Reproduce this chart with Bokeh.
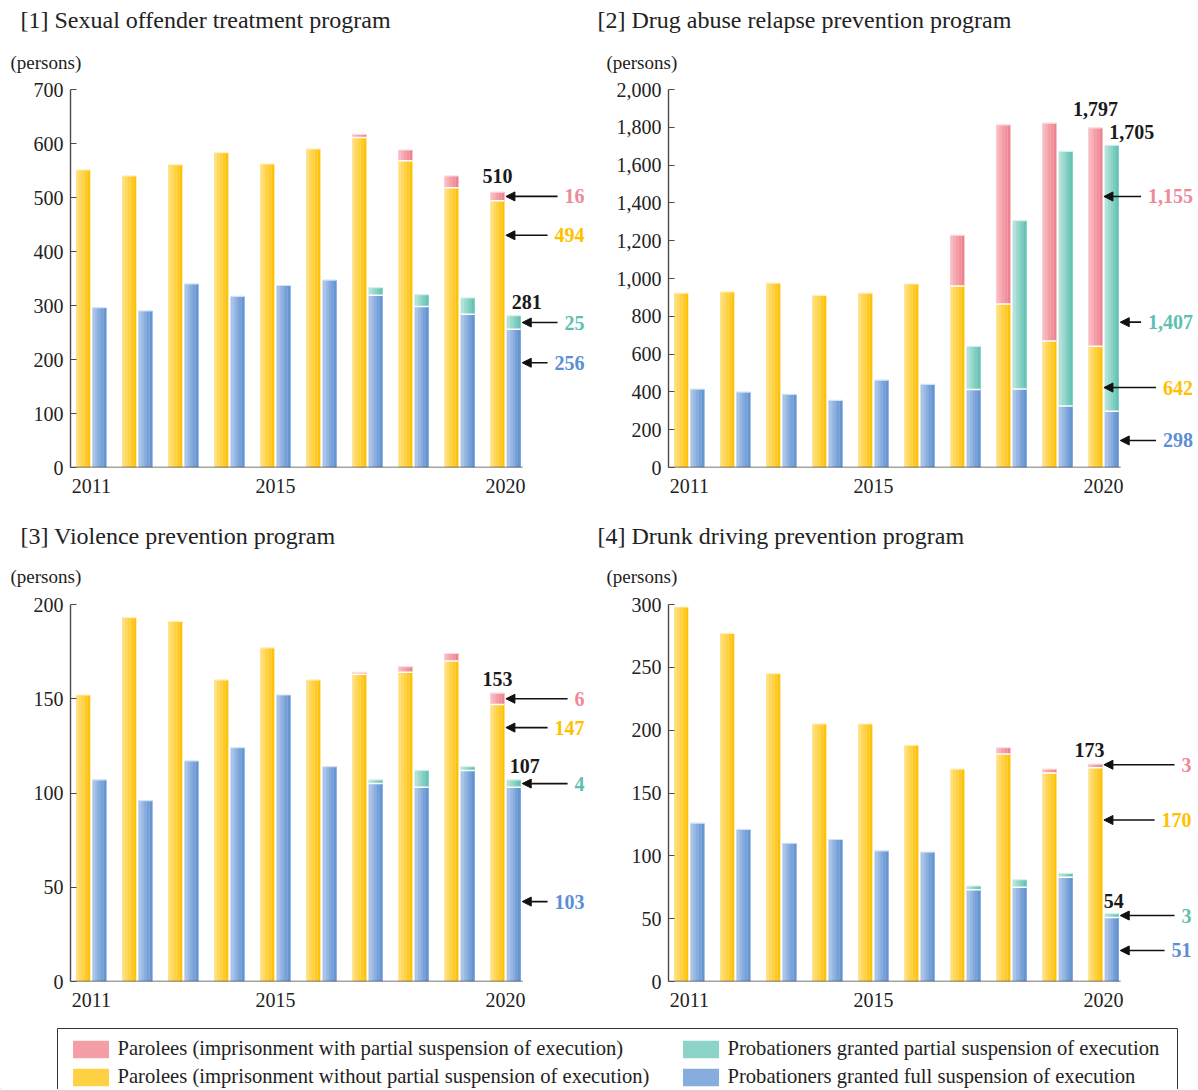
from bokeh.plotting import figure
from bokeh.layouts import column, row
from bokeh.models import (Range1d, FixedTicker, NumeralTickFormatter, Arrow, NormalHead,
                          Legend, LegendItem, Title)
from bokeh.core.properties import value
from bokeh.embed import file_html
from bokeh.resources import INLINE
import numpy as np

FONT = '"Liberation Serif"'

# ---------------- data ----------------
years = [2011, 2012, 2013, 2014, 2015, 2016, 2017, 2018, 2019, 2020]
tick_years = [2011, 2015, 2020]

titles = ["[1] Sexual offender treatment program",
          "[2] Drug abuse relapse prevention program",
          "[3] Violence prevention program",
          "[4] Drunk driving prevention program"]
unit_label = "(persons)"

series_names = ["Parolees (imprisonment with partial suspension of execution)",
                "Parolees (imprisonment without partial suspension of execution)",
                "Probationers granted partial suspension of execution",
                "Probationers granted full suspension of execution"]

# [1] Sexual offender treatment program
sex_par_no = [551, 540, 561, 583, 562, 590, 611, 568, 518, 494]
sex_par_part = [0, 0, 0, 0, 0, 0, 6, 20, 22, 16]
sex_prob_full = [296, 290, 340, 317, 337, 347, 319, 298, 284, 256]
sex_prob_part = [0, 0, 0, 0, 0, 0, 14, 22, 30, 25]
sex_yticks = [0, 100, 200, 300, 400, 500, 600, 700]

# [2] Drug abuse relapse prevention program
drug_par_no = [923, 929, 976, 911, 923, 971, 960, 865, 669, 642]
drug_par_part = [0, 0, 0, 0, 0, 0, 269, 948, 1153, 1155]
drug_prob_full = [415, 399, 387, 355, 462, 440, 413, 415, 325, 298]
drug_prob_part = [0, 0, 0, 0, 0, 0, 228, 891, 1348, 1407]
drug_yticks = [0, 200, 400, 600, 800, 1000, 1200, 1400, 1600, 1800, 2000]

# [3] Violence prevention program
viol_par_no = [152, 193, 191, 160, 177, 160, 163, 164, 170, 147]
viol_par_part = [0, 0, 0, 0, 0, 0, 1, 3, 4, 6]
viol_prob_full = [107, 96, 117, 124, 152, 114, 105, 103, 112, 103]
viol_prob_part = [0, 0, 0, 0, 0, 0, 2, 9, 2, 4]
viol_yticks = [0, 50, 100, 150, 200]

# [4] Drunk driving prevention program
drunk_par_no = [298, 277, 245, 205, 205, 188, 169, 181, 166, 170]
drunk_par_part = [0, 0, 0, 0, 0, 0, 0, 5, 3, 3]
drunk_prob_full = [126, 121, 110, 113, 104, 103, 73, 75, 83, 51]
drunk_prob_part = [0, 0, 0, 0, 0, 0, 3, 6, 3, 3]
drunk_yticks = [0, 50, 100, 150, 200, 250, 300]

# ---------------- styles ----------------
PINK = ("#F9BBC1", "#EE8390")
YELLOW = ("#FFE07E", "#FFC20A")
TEAL = ("#B2E2DA", "#66C4B5")
BLUE = ("#A9C4E8", "#6595D3")
TXT_PINK = "#EE8A96"
TXT_YELLOW = "#FFC000"
TXT_TEAL = "#5EC0AF"
TXT_BLUE = "#5B8ED5"
AXIS_COL = "#4a4a4a"

PPU = 46.03          # pixels per year
BAR_W_PX = 14.0
OFF_PX = 8.15


def blend(c1, c2, t):
    a = [int(c1[i:i + 2], 16) for i in (1, 3, 5)]
    b = [int(c2[i:i + 2], 16) for i in (1, 3, 5)]
    return "#%02x%02x%02x" % tuple(int(round(a[k] + (b[k] - a[k]) * t)) for k in range(3))


def draw_segments(p, xs, bottoms, tops, colors, width):
    xs = np.asarray(xs, float)
    bottoms = np.asarray(bottoms, float)
    tops = np.asarray(tops, float)
    keep = tops > bottoms
    xs, bottoms, tops = xs[keep], bottoms[keep], tops[keep]
    n = 5
    sub = width / n
    for k in range(n):
        t = k / (n - 1)
        col = blend(colors[0], colors[1], t)
        xk = xs - width / 2 + sub * (k + 0.5)
        p.vbar(x=xk, bottom=bottoms, top=tops, width=sub * 1.08,
               fill_color=col, line_color=None)


def make_panel(title, par_no, par_part, prob_full, prob_part, yticks,
               width, height, bl, br, bt, bb, ann):
    frame_w = width - bl - br
    x0 = years[0] - 20.8 / PPU
    x1 = x0 + frame_w / PPU
    p = figure(width=width, height=height, x_range=Range1d(x0, x1),
               y_range=Range1d(yticks[0], yticks[-1]),
               output_backend="svg", toolbar_location=None, tools="",
               min_border_left=bl, min_border_right=br,
               min_border_top=bt, min_border_bottom=bb)
    p.outline_line_color = None
    p.xgrid.visible = False
    p.ygrid.visible = False

    yrs = np.array(years, float)
    w = BAR_W_PX / PPU
    off = OFF_PX / PPU
    xp = yrs - off
    xb = yrs + off
    par_no_a = np.array(par_no, float)
    par_tot = par_no_a + np.array(par_part, float)
    prob_full_a = np.array(prob_full, float)
    prob_tot = prob_full_a + np.array(prob_part, float)

    draw_segments(p, xp, np.zeros_like(yrs), par_no_a, YELLOW, w)
    draw_segments(p, xp, par_no_a, par_tot, PINK, w)
    draw_segments(p, xb, np.zeros_like(yrs), prob_full_a, BLUE, w)
    draw_segments(p, xb, prob_full_a, prob_tot, TEAL, w)

    # white separators between stacked parts
    m1 = par_tot > par_no_a
    p.segment(x0=xp[m1] - w / 2, x1=xp[m1] + w / 2, y0=par_no_a[m1], y1=par_no_a[m1],
              line_color="white", line_width=1.5)
    m2 = prob_tot > prob_full_a
    p.segment(x0=xb[m2] - w / 2, x1=xb[m2] + w / 2, y0=prob_full_a[m2], y1=prob_full_a[m2],
              line_color="white", line_width=1.5)

    # light highlight along the top edge of every bar
    top_col_p = np.where(m1, blend(PINK[0], "#ffffff", 0.5), blend(YELLOW[0], "#ffffff", 0.5))
    top_col_b = np.where(m2, blend(TEAL[0], "#ffffff", 0.5), blend(BLUE[0], "#ffffff", 0.5))
    p.segment(x0=xp - w / 2, x1=xp + w / 2, y0=par_tot, y1=par_tot,
              line_color=list(top_col_p), line_width=1.2)
    p.segment(x0=xb - w / 2, x1=xb + w / 2, y0=prob_tot, y1=prob_tot,
              line_color=list(top_col_b), line_width=1.2)

    # baseline (x axis line)
    base_end = yrs[-1] + off + w / 2 + 2.0 / PPU
    p.segment(x0=[x0], x1=[base_end], y0=[yticks[0]], y1=[yticks[0]],
              line_color=AXIS_COL, line_width=1.6)

    # axes
    p.xaxis.ticker = FixedTicker(ticks=tick_years)
    p.xaxis.axis_line_color = None
    p.xaxis.major_tick_line_color = None
    p.xaxis.minor_tick_line_color = None
    p.xaxis.major_label_standoff = 5
    p.xaxis.major_label_text_font = FONT
    p.xaxis.major_label_text_font_size = "20px"
    p.xaxis.major_label_text_color = "#222222"

    p.yaxis.ticker = FixedTicker(ticks=yticks)
    p.yaxis.formatter = NumeralTickFormatter(format="0,0")
    p.yaxis.axis_line_color = AXIS_COL
    p.yaxis.axis_line_width = 1.4
    p.yaxis.major_tick_line_color = AXIS_COL
    p.yaxis.major_tick_line_width = 1.2
    p.yaxis.major_tick_in = 6
    p.yaxis.major_tick_out = 0
    p.yaxis.minor_tick_line_color = None
    p.yaxis.major_label_standoff = 7
    p.yaxis.major_label_text_font = FONT
    p.yaxis.major_label_text_font_size = "20px"
    p.yaxis.major_label_text_color = "#222222"

    # titles: unit label nearest to the frame, panel title outermost
    p.add_layout(Title(text=unit_label, align="left", offset=ann["unit_x"],
                       vertical_align="top", standoff=ann["unit_s"],
                       text_font=FONT, text_font_size="19px", text_font_style="normal",
                       text_color="#222222"), "above")
    p.add_layout(Title(text=title, align="left", offset=ann["title_x"],
                       vertical_align="middle", standoff=ann["title_s"],
                       text_font=FONT, text_font_size="24px", text_font_style="normal",
                       text_color="#222222"), "above")

    # totals above 2020 bars
    last = len(years) - 1
    p.text(x=[xp[last] + ann["par_dx"] / PPU], y=[par_tot[last]], text=[f"{int(par_tot[last]):,}"],
           y_offset=ann["par_dy"], text_align="center", text_baseline="middle",
           text_font=value(FONT), text_font_style="bold", text_font_size="20px",
           text_color="#1a1a1a")
    p.text(x=[xb[last] + ann["prob_dx"] / PPU], y=[prob_tot[last]], text=[f"{int(prob_tot[last]):,}"],
           y_offset=ann["prob_dy"], text_align="center", text_baseline="middle",
           text_font=value(FONT), text_font_style="bold", text_font_size="20px",
           text_color="#1a1a1a")

    # component values with arrows
    vals = [par_part[last], par_no[last], prob_part[last], prob_full[last]]
    cols = [TXT_PINK, TXT_YELLOW, TXT_TEAL, TXT_BLUE]
    tips = [xp[last] + (w / 2) + 1.5 / PPU] * 2 + [xb[last] + (w / 2) + 1.5 / PPU] * 2
    xr = yrs[last] + ann["label_right"] / PPU
    labels = [f"{v:,}" for v in vals]
    p.text(x=[xr] * 4, y=ann["arrow_y"], text=labels, text_color=cols,
           text_align="right", text_baseline="middle", text_font=value(FONT),
           text_font_style="bold", text_font_size="20px")
    for lab, yv, tip in zip(labels, ann["arrow_y"], tips):
        est = sum(5 if ch == "," else 10 for ch in lab)
        tail = xr - (est + 7) / PPU
        p.add_layout(Arrow(end=NormalHead(size=9, fill_color="#111111", line_color="#111111",
                                          line_width=1),
                           x_start=tail, y_start=yv, x_end=tip, y_end=yv,
                           line_color="#111111", line_width=1.6))
    return p


# annotation layout (pixel offsets relative to frame / 2020 group centre)
ann1 = dict(title_x=-50, title_s=7, unit_x=-60, unit_s=29,
            par_dx=0, par_dy=-16, prob_dx=13, prob_dy=-14,
            label_right=79, arrow_y=[502, 430, 268.5, 194])
ann2 = dict(title_x=-71, title_s=7, unit_x=-62, unit_s=29,
            par_dx=0, par_dy=-19, prob_dx=20, prob_dy=-13,
            label_right=89.5, arrow_y=[1434, 423, 769, 143])
ann3 = dict(title_x=-50, title_s=2, unit_x=-60, unit_s=31,
            par_dx=0, par_dy=-14, prob_dx=11, prob_dy=-14,
            label_right=79, arrow_y=[150, 134.7, 105, 42.4])
ann4 = dict(title_x=-71, title_s=2, unit_x=-62, unit_s=31,
            par_dx=-6, par_dy=-14, prob_dx=2, prob_dy=-13,
            label_right=88, arrow_y=[172.5, 128.5, 52.5, 24.7])

p1 = make_panel(titles[0], sex_par_no, sex_par_part, sex_prob_full, sex_prob_part, sex_yticks,
                598, 518, 70, 3, 89, 51, ann1)
p2 = make_panel(titles[1], drug_par_no, drug_par_part, drug_prob_full, drug_prob_part, drug_yticks,
                600, 518, 70, 0, 89, 51, ann2)
p3 = make_panel(titles[2], viol_par_no, viol_par_part, viol_prob_full, viol_prob_part, viol_yticks,
                598, 500, 70, 3, 86, 37, ann3)
p4 = make_panel(titles[3], drunk_par_no, drunk_par_part, drunk_prob_full, drunk_prob_part, drunk_yticks,
                600, 500, 70, 0, 86, 37, ann4)

# ---------------- legend ----------------
LW, LH = 1198, 71
pl = figure(width=LW, height=LH, x_range=Range1d(0, LW), y_range=Range1d(0, LH),
            output_backend="svg", toolbar_location=None, tools="",
            min_border_left=0, min_border_right=0, min_border_top=0, min_border_bottom=0)
pl.axis.visible = False
pl.xgrid.visible = False
pl.ygrid.visible = False
pl.outline_line_color = None
pl.quad(left=[57], right=[1177], bottom=[-10], top=[LH - 10], fill_color=None,
        line_color="#333333", line_width=1)
legend_colors = [blend(PINK[0], PINK[1], 0.5), blend(YELLOW[0], YELLOW[1], 0.5),
                 blend(TEAL[0], TEAL[1], 0.5), blend(BLUE[0], BLUE[1], 0.5)]
rs = [pl.vbar(x=[-1000], top=[1], width=1, fill_color=c, line_color=None) for c in legend_colors]
common = dict(orientation="vertical", border_line_color=None, background_fill_alpha=0,
              padding=0, margin=0, spacing=5, glyph_width=45, glyph_height=22,
              label_standoff=5, label_text_font=FONT, label_text_font_size="20.6px",
              label_text_color="#222222", label_height=20)
leg1 = Legend(items=[LegendItem(label=series_names[0], renderers=[rs[0]]),
                     LegendItem(label=series_names[1], renderers=[rs[1]])],
              location=(67.5, 1), **common)
leg2 = Legend(items=[LegendItem(label=series_names[2], renderers=[rs[2]]),
                     LegendItem(label=series_names[3], renderers=[rs[3]])],
              location=(677.5, 1), **common)
pl.add_layout(leg1)
pl.add_layout(leg2)

layout = column(row(p1, p2), row(p3, p4), pl)
open("out.html", "w").write(file_html(layout, INLINE))
